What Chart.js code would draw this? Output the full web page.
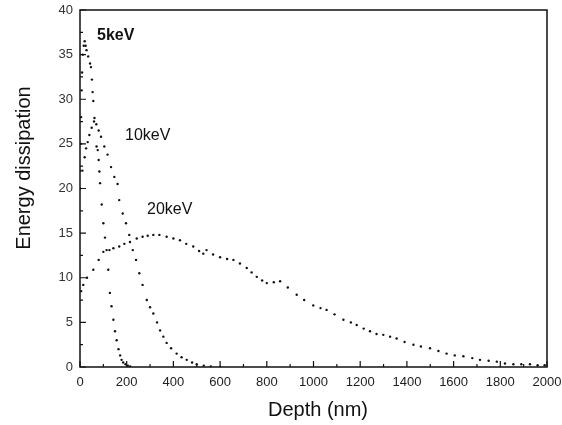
<!DOCTYPE html>
<html>
<head>
<meta charset="utf-8">
<script src="https://cdn.jsdelivr.net/npm/chart.js@4/dist/chart.umd.min.js"></script>
<style>
  html, body { margin: 0; padding: 0; background: #fff; }
  #wrap { width: 562px; height: 425px; }
</style>
</head>
<body>
<div id="wrap"><canvas id="chart" width="562" height="425"></canvas></div>
<script>
// Depth (nm) and energy dissipation
const depth5 = [0, 3, 5, 7, 9, 12, 16, 20, 24, 28, 35, 43, 47, 51, 54, 57, 62, 71, 76, 80, 83, 86, 93, 100, 107, 114, 121, 128, 135, 143, 150, 157, 165, 172, 178, 185, 195, 205, 215];
const energy5 = [22, 25, 28, 31, 33, 35, 36, 36.5, 36, 35.5, 34.8, 34, 33.6, 32.2, 30.8, 29.8, 27.9, 24.7, 24.3, 23.2, 21.9, 20.6, 18.2, 16.1, 14.5, 13.1, 10.9, 8.3, 6.8, 5.3, 4, 3, 2, 1.3, 0.8, 0.5, 0.3, 0.15, 0.05];

const depth10 = [0, 10, 20, 26, 33, 40, 50, 60, 70, 80, 90, 104, 118, 133, 147, 161, 168, 183, 197, 211, 226, 240, 254, 268, 286, 300, 314, 330, 343, 357, 371, 390, 414, 435, 457, 480, 500, 530, 560, 600];
const energy10 = [20, 22, 23.5, 24.5, 25.2, 26, 26.8, 27.5, 27.2, 26.5, 25.8, 24.7, 23.8, 22.4, 21.3, 20.5, 18.7, 17.2, 16.1, 14.8, 13.1, 12, 10.5, 9.2, 7.5, 6.7, 6, 5, 4.1, 3.4, 2.7, 2.1, 1.5, 1.1, 0.8, 0.5, 0.3, 0.15, 0.05, 0];

const depth20 = [5, 14, 30, 57, 80, 100, 126, 143, 168, 190, 214, 243, 268, 290, 314, 340, 371, 400, 428, 455, 485, 510, 528, 542, 570, 600, 630, 657, 685, 714, 735, 757, 780, 800, 830, 857, 890, 928, 960, 999, 1030, 1056, 1090, 1128, 1160, 1185, 1215, 1242, 1270, 1299, 1328, 1356, 1390, 1428, 1460, 1499, 1535, 1570, 1605, 1642, 1680, 1713, 1750, 1785, 1820, 1856, 1890, 1927, 1960, 1990];
const energy20 = [8.5, 9.2, 10, 10.9, 12, 12.9, 13.1, 13.3, 13.5, 13.8, 14, 14.4, 14.6, 14.7, 14.8, 14.8, 14.6, 14.4, 14.2, 13.8, 13.5, 13, 12.7, 13.1, 12.6, 12.3, 12.1, 12, 11.6, 11.1, 10.6, 10.1, 9.7, 9.4, 9.5, 9.6, 8.9, 8.1, 7.5, 6.9, 6.6, 6.4, 5.9, 5.3, 5, 4.7, 4.3, 4, 3.7, 3.6, 3.4, 3.2, 2.8, 2.5, 2.3, 2.1, 1.8, 1.5, 1.3, 1.2, 1, 0.8, 0.7, 0.6, 0.4, 0.3, 0.3, 0.3, 0.2, 0.2];

// Curve labels: text, anchor depth, anchor energy
const seriesLabels = ['5keV', '10keV', '20keV'];
const labelDepth = [73, 193, 287];
const labelEnergy = [37.1, 25.9, 17.6];

const FONT = '"Liberation Sans", Arial, sans-serif';

function toPoints(xs, ys) {
  return xs.map((x, i) => ({ x, y: ys[i] }));
}

// frame, inward ticks, axis titles and curve labels
const framePlugin = {
  id: 'frame',
  afterDatasetsDraw(chart) {
    const { ctx, chartArea: a, scales } = chart;
    const sx = scales.x, sy = scales.y;
    ctx.save();
    ctx.strokeStyle = '#111';
    ctx.lineWidth = 1.5;
    ctx.strokeRect(a.left, a.top, a.right - a.left, a.bottom - a.top);

    ctx.lineWidth = 1.2;
    ctx.beginPath();
    for (let v = 0; v <= 2000; v += 100) {
      const px = sx.getPixelForValue(v);
      const len = v % 200 === 0 ? 6 : 3;
      ctx.moveTo(px, a.bottom);
      ctx.lineTo(px, a.bottom - len);
    }
    for (let v = 0; v <= 40; v += 2.5) {
      const py = sy.getPixelForValue(v);
      const len = v % 5 === 0 ? 6 : 3;
      ctx.moveTo(a.left, py);
      ctx.lineTo(a.left + len, py);
    }
    ctx.stroke();

    ctx.fillStyle = '#111';
    ctx.textBaseline = 'middle';
    ctx.textAlign = 'left';
    seriesLabels.forEach((t, i) => {
      ctx.font = (i === 0 ? 'bold ' : '') + '16px ' + FONT;
      ctx.fillText(t, sx.getPixelForValue(labelDepth[i]), sy.getPixelForValue(labelEnergy[i]));
    });

    // axis titles
    ctx.font = '20px ' + FONT;
    ctx.textAlign = 'center';
    ctx.fillText('Depth (nm)', 318, 410);
    ctx.translate(24, 168);
    ctx.rotate(-Math.PI / 2);
    ctx.fillText('Energy dissipation', 0, 0);
    ctx.restore();
  }
};

function series(xs, ys) {
  return {
    data: toPoints(xs, ys),
    showLine: false,
    pointRadius: 1.2,
    pointBackgroundColor: '#111',
    pointBorderWidth: 0
  };
}

new Chart(document.getElementById('chart'), {
  type: 'scatter',
  data: {
    datasets: [
      series(depth5, energy5),
      series(depth10, energy10),
      series(depth20, energy20)
    ]
  },
  options: {
    responsive: false,
    animation: false,
    layout: { padding: { top: 10, right: 15, left: 0, bottom: 0 } },
    plugins: { legend: { display: false }, tooltip: { enabled: false } },
    scales: {
      x: {
        type: 'linear',
        min: 0,
        max: 2000,
        ticks: { stepSize: 200, padding: 8, color: '#222', font: { family: FONT, size: 13 }, maxRotation: 0, callback: v => String(v) },
        grid: { display: false, drawTicks: false },
        border: { display: false },
        title: { display: false },
        afterFit(s) { s.height = 58; s.paddingLeft = 0; s.paddingRight = 0; }
      },
      y: {
        type: 'linear',
        min: 0,
        max: 40,
        ticks: { stepSize: 5, padding: 7, color: '#333', font: { family: FONT, size: 13 } },
        grid: { display: false, drawTicks: false },
        border: { display: false },
        title: { display: false },
        afterFit(s) { s.width = 80; s.paddingTop = 0; s.paddingBottom = 0; }
      }
    }
  },
  plugins: [framePlugin]
});
</script>
</body>
</html>
